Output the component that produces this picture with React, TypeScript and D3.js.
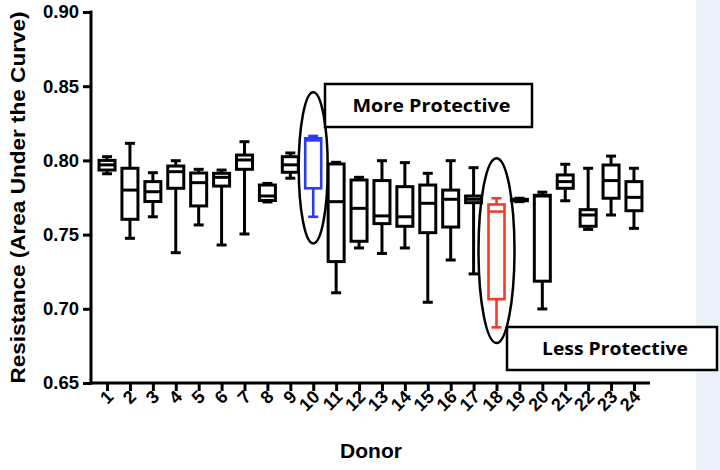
import React, { useEffect, useRef } from 'react';
import * as d3 from 'd3';

// donor ids on the x axis
const donors = ['1','2','3','4','5','6','7','8','9','10','11','12','13','14','15','16','17','18','19','20','21','22','23','24'];
// box plot statistics
const whiskerMin = [0.791,0.7475,0.762,0.7378,0.7565,0.743,0.7504,0.772,0.788,0.762,0.7108,0.741,0.7373,0.741,0.7044,0.7329,0.7235,0.6875,0.7722,0.6999,0.7728,0.7535,0.7632,0.7542];
const q1 = [0.7935,0.7603,0.7723,0.7812,0.7693,0.7827,0.794,0.773,0.792,0.7812,0.7318,0.7455,0.7574,0.7556,0.7513,0.7551,0.7715,0.7065,0.7728,0.7186,0.7812,0.7556,0.7745,0.7661];
const median = [0.797,0.78,0.7789,0.7924,0.785,0.7886,0.8003,0.776,0.797,0.8135,0.7722,0.7677,0.7626,0.762,0.7711,0.7738,0.7738,0.7655,0.7733,0.776,0.7857,0.7632,0.7864,0.7751];
const q3 = [0.8,0.7947,0.7857,0.7962,0.7915,0.7913,0.8036,0.7834,0.8025,0.8149,0.7976,0.7868,0.7864,0.7823,0.7834,0.78,0.776,0.7703,0.7738,0.7765,0.7902,0.7668,0.7969,0.7857];
const whiskerMax = [0.8025,0.8115,0.7917,0.7998,0.794,0.7935,0.8126,0.7845,0.805,0.8165,0.7987,0.7886,0.7998,0.7985,0.7913,0.7998,0.7951,0.7745,0.7745,0.7786,0.7974,0.7947,0.8029,0.7947];
const yTicks = [0.65,0.70,0.75,0.80,0.85,0.90];

// circled donors and their callouts
const noteDonors = ['10','18'];
const noteTop = [0.846,0.8015];
const noteBottom = [0.744,0.677];
const noteText = ['More Protective','Less Protective'];
const noteColor = ['#2b3cf0','#f03c28'];

export default function App() {
  const ref = useRef<SVGSVGElement>(null);

  useEffect(() => {
    const svg = d3.select(ref.current);
    svg.selectAll('*').remove();

    const x = d3.scalePoint().domain(donors).range([91,650]).padding(0.7);
    const y = d3.scaleLinear().domain([0.65,0.90]).range([383,12]);
    const bw = 16;
    const cw = 10;
    const font = '"Liberation Sans", Arial, sans-serif';

    // right side strip
    svg.append('rect').attr('x',696).attr('y',0).attr('width',24).attr('height',470).attr('fill','#edf2fa');

    // y axis
    const ya = svg.append('g').attr('transform','translate(91,0)');
    ya.call(d3.axisLeft(y).tickValues(yTicks).tickSize(8).tickPadding(4).tickFormat(d3.format('.2f')) as any);
    ya.select('.domain').attr('stroke','#000').attr('stroke-width',3).attr('d',`M0,${y(0.65)+1.5}V${y(0.9)-1.5}`);
    ya.selectAll('.tick line').attr('stroke','#000').attr('stroke-width',3);
    ya.selectAll('.tick text').attr('font-family',font).attr('font-weight','bold').attr('font-size',18.5).attr('fill','#000');

    // x axis
    const xa = svg.append('g').attr('transform',`translate(0,${y(0.65)})`);
    xa.call(d3.axisBottom(x).tickSize(8).tickFormat(() => '') as any);
    xa.select('.domain').attr('stroke','#000').attr('stroke-width',3).attr('d','M89.5,0H650');
    xa.selectAll('.tick line').attr('stroke','#000').attr('stroke-width',3);
    xa.selectAll('.tick').append('text')
      .attr('transform','translate(7,15) rotate(-45)')
      .attr('text-anchor','end')
      .attr('font-family',font).attr('font-weight','bold').attr('font-size',18).attr('fill','#000')
      .text((d: any) => d);

    // axis titles
    svg.append('text')
      .attr('transform',`translate(25,${(y(0.65)+y(0.9))/2}) rotate(-90)`)
      .attr('text-anchor','middle')
      .attr('font-family',font).attr('font-weight','bold').attr('font-size',20)
      .attr('textLength',372).attr('lengthAdjust','spacingAndGlyphs')
      .text('Resistance (Area Under the Curve)');
    svg.append('text')
      .attr('x',371).attr('y',458)
      .attr('text-anchor','middle')
      .attr('font-family',font).attr('font-weight','bold').attr('font-size',21)
      .text('Donor');

    // boxes
    const boxes = svg.append('g');
    donors.forEach((d,i) => {
      const k = noteDonors.indexOf(d);
      const col = k >= 0 ? noteColor[k] : '#000';
      const sw = k >= 0 ? 2.6 : 3;
      const cx = x(d) as number;
      const g = boxes.append('g').attr('stroke',col).attr('stroke-width',sw).attr('fill','none');
      g.append('line').attr('x1',cx).attr('x2',cx).attr('y1',y(whiskerMax[i])).attr('y2',y(q3[i]));
      g.append('line').attr('x1',cx).attr('x2',cx).attr('y1',y(q1[i])).attr('y2',y(whiskerMin[i]));
      g.append('line').attr('x1',cx-cw/2).attr('x2',cx+cw/2).attr('y1',y(whiskerMax[i])).attr('y2',y(whiskerMax[i]));
      g.append('line').attr('x1',cx-cw/2).attr('x2',cx+cw/2).attr('y1',y(whiskerMin[i])).attr('y2',y(whiskerMin[i]));
      g.append('rect').attr('x',cx-bw/2).attr('width',bw)
        .attr('y',y(q3[i])).attr('height',Math.max(0.5,y(q1[i])-y(q3[i])))
        .attr('fill','#fff');
      g.append('line').attr('x1',cx-bw/2).attr('x2',cx+bw/2).attr('y1',y(median[i])).attr('y2',y(median[i]));
    });

    // ellipses and callout boxes
    noteDonors.forEach((d,i) => {
      const cx = x(d) as number;
      const t = y(noteTop[i]);
      const b = y(noteBottom[i]);
      svg.append('ellipse')
        .attr('cx',cx).attr('cy',(t+b)/2)
        .attr('rx',i === 0 ? 14.5 : 18).attr('ry',(b-t)/2)
        .attr('fill','none').attr('stroke','#000').attr('stroke-width',2.5);
    });
    const calloutX = [325,507];
    const calloutY = [84,327];
    const calloutW = [207,210];
    const calloutH = [43,43];
    const textW = [158,146];
    noteText.forEach((t,i) => {
      svg.append('rect')
        .attr('x',calloutX[i]).attr('y',calloutY[i])
        .attr('width',calloutW[i]).attr('height',calloutH[i])
        .attr('fill','#fff').attr('stroke','#000').attr('stroke-width',2.5);
      svg.append('text')
        .attr('x',calloutX[i] + calloutW[i]/2 + 3).attr('y',calloutY[i] + 28)
        .attr('text-anchor','middle')
        .attr('font-family','"Open Sans", "Noto Sans", sans-serif').attr('font-weight',700).attr('font-size',18)
        .attr('textLength',textW[i]).attr('lengthAdjust','spacingAndGlyphs')
        .attr('fill','#000')
        .text(t);
    });
  }, []);

  return (
    <svg ref={ref} width={720} height={470}
      style={{ position: 'absolute', left: 0, top: 0, background: '#fff' }} />
  );
}
